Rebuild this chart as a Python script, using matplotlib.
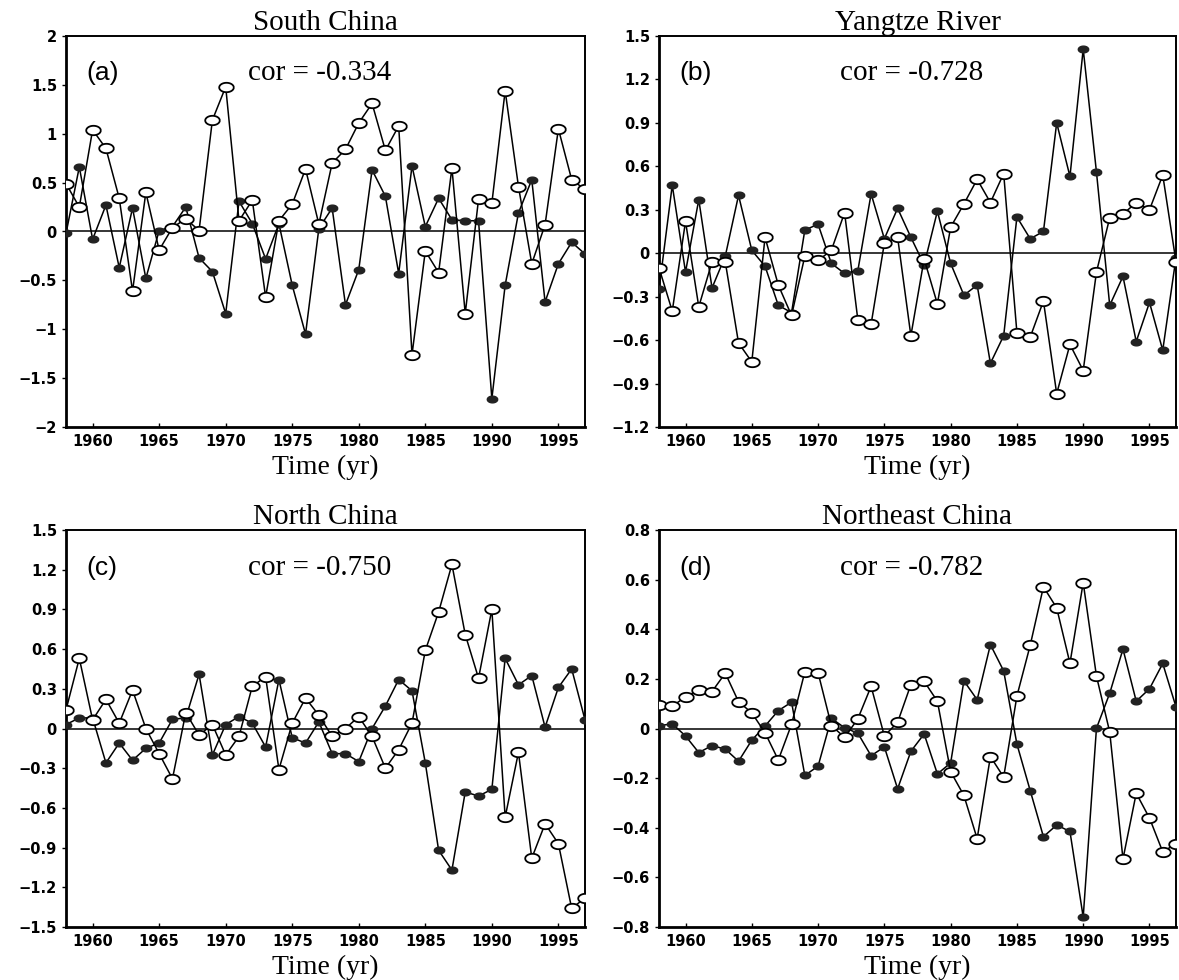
import numpy as np
import matplotlib
matplotlib.use("Agg")
import matplotlib.pyplot as plt
from matplotlib.path import Path

years = np.arange(1958, 1998)

# (a) South China
sc_open = [0.49, 0.25, 1.04, 0.85, 0.34, -0.61, 0.40, -0.19, 0.04, 0.13,
           0.01, 1.14, 1.48, 0.11, 0.32, -0.67, 0.11, 0.28, 0.64, 0.075,
           0.70, 0.84, 1.11, 1.31, 0.83, 1.08, -1.26, -0.20, -0.42, 0.65,
           -0.84, 0.33, 0.29, 1.44, 0.46, -0.33, 0.07, 1.05, 0.53, 0.43]
sc_fill = [-0.02, 0.66, -0.08, 0.27, -0.37, 0.24, -0.48, 0.01, 0.05, 0.25,
           -0.27, -0.41, -0.84, 0.31, 0.08, -0.28, 0.08, -0.55, -1.05, 0.03,
           0.24, -0.75, -0.39, 0.63, 0.36, -0.43, 0.67, 0.05, 0.34, 0.12,
           0.11, 0.11, -1.71, -0.55, 0.19, 0.53, -0.72, -0.33, -0.11, -0.23]

# (b) Yangtze River
yr_open = [-0.10, -0.40, 0.22, -0.37, -0.06, -0.06, -0.62, -0.75, 0.11, -0.22,
           -0.43, -0.02, -0.05, 0.02, 0.28, -0.46, -0.49, 0.07, 0.11, -0.57,
           -0.04, -0.35, 0.18, 0.34, 0.51, 0.35, 0.55, -0.55, -0.58, -0.33,
           -0.97, -0.63, -0.81, -0.13, 0.245, 0.27, 0.35, 0.30, 0.54, -0.06]
yr_fill = [-0.25, 0.47, -0.13, 0.37, -0.24, -0.02, 0.40, 0.02, -0.09, -0.36,
           -0.41, 0.16, 0.20, -0.07, -0.14, -0.12, 0.41, 0.10, 0.31, 0.11,
           -0.08, 0.29, -0.07, -0.29, -0.22, -0.76, -0.57, 0.25, 0.10, 0.15,
           0.90, 0.53, 1.41, 0.56, -0.36, -0.16, -0.61, -0.34, -0.67, -0.03]

# (c) North China
nc_open = [0.14, 0.53, 0.065, 0.22, 0.04, 0.29, 0.00, -0.19, -0.38, 0.12,
           -0.05, 0.03, -0.20, -0.06, 0.32, 0.39, -0.31, 0.04, 0.23, 0.10,
           -0.06, 0.00, 0.09, -0.06, -0.30, -0.16, 0.04, 0.59, 0.88, 1.24,
           0.71, 0.38, 0.90, -0.67, -0.18, -0.98, -0.72, -0.87, -1.36, -1.28]
nc_fill = [0.03, 0.08, 0.08, -0.26, -0.11, -0.24, -0.15, -0.11, 0.07, 0.08,
           0.41, -0.20, 0.03, 0.09, 0.04, -0.14, 0.37, -0.07, -0.11, 0.05,
           -0.19, -0.19, -0.25, 0.00, 0.17, 0.37, 0.285, -0.26, -0.92, -1.07,
           -0.48, -0.51, -0.46, 0.53, 0.33, 0.40, 0.01, 0.31, 0.45, 0.065]

# (d) Northeast China
ne_open = [0.094, 0.09, 0.127, 0.156, 0.149, 0.223, 0.108, 0.063, -0.017, -0.127,
           0.017, 0.228, 0.225, 0.012, -0.036, 0.039, 0.17, -0.03, 0.025, 0.177,
           0.19, 0.11, -0.174, -0.27, -0.444, -0.113, -0.196, 0.131, 0.335, 0.571,
           0.486, 0.263, 0.588, 0.211, -0.014, -0.526, -0.261, -0.361, -0.497, -0.465]
ne_fill = [0.011, 0.019, -0.03, -0.097, -0.069, -0.083, -0.132, -0.047, 0.01, 0.072,
           0.106, -0.189, -0.152, 0.041, 0.003, -0.019, -0.11, -0.074, -0.243, -0.092,
           -0.022, -0.183, -0.139, 0.192, 0.116, 0.338, 0.232, -0.063, -0.25, -0.436,
           -0.389, -0.415, -0.76, 0.001, 0.142, 0.32, 0.11, 0.16, 0.262, 0.087]

titles = ["South China", "Yangtze River", "North China", "Northeast China"]
tags = ["(a)", "(b)", "(c)", "(d)"]
cors = ["cor = -0.334", "cor = -0.728", "cor = -0.750", "cor = -0.782"]
opens = [sc_open, yr_open, nc_open, ne_open]
fills = [sc_fill, yr_fill, nc_fill, ne_fill]
ylims = [(-2, 2), (-1.2, 1.5), (-1.5, 1.5), (-0.8, 0.8)]
yticks = [np.arange(-2, 2.01, 0.5), np.arange(-1.2, 1.51, 0.3),
          np.arange(-1.5, 1.51, 0.3), np.arange(-0.8, 0.81, 0.2)]

# flattened ellipse marker
t = np.linspace(0, 2 * np.pi, 40)
ellipse = Path(np.column_stack([1.55 * np.cos(t), np.sin(t)]))


def fmt(v, step):
    if abs(v) < 1e-9:
        return "0"
    if step == 0.5:
        s = ("%.1f" % v).rstrip("0").rstrip(".")
    else:
        s = "%.1f" % v
    return s.replace("-", "\u2212")


fig = plt.figure(figsize=(11.79, 9.8), dpi=100)
W, H = 1179.0, 980.0
boxes = [(66, 36, 585, 427), (659, 36, 1176, 427),
         (66, 530, 585, 927), (659, 530, 1176, 927)]

for i in range(4):
    l, tp, r, b = boxes[i]
    ax = fig.add_axes([l / W, 1 - b / H, (r - l) / W, (b - tp) / H])
    ax.axhline(0, color="black", lw=1.1, zorder=1)
    ax.plot(years, fills[i], color="black", lw=1.1, marker=ellipse, ms=7.5,
            mfc="#222222", mec="#222222", zorder=3)
    ax.plot(years, opens[i], color="black", lw=1.1, marker=ellipse, ms=10.5,
            mfc="white", mec="black", mew=1.3, zorder=4)
    ax.set_xlim(1958, 1997)
    ax.set_ylim(*ylims[i])
    ax.set_xticks(np.arange(1960, 1996, 5))
    ax.set_yticks(yticks[i])
    step = yticks[i][1] - yticks[i][0]
    ax.set_yticklabels([fmt(v, round(step, 1)) for v in yticks[i]])
    ax.tick_params(axis="both", labelsize=10.5, width=1, length=3)
    ax.tick_params(axis="x", direction="in", length=3, pad=5)
    for lab in ax.get_xticklabels() + ax.get_yticklabels():
        lab.set_fontweight("bold")
        lab.set_family("DejaVu Sans")
    for s in ["left", "bottom"]:
        ax.spines[s].set_linewidth(2)
    for s in ["top", "right"]:
        ax.spines[s].set_linewidth(1.4)
    ax.set_title(titles[i], family="Liberation Serif", fontsize=21, pad=0)
    ax.set_xlabel("Time (yr)", family="Liberation Serif", fontsize=20, labelpad=4)
    ax.text(0.04, 0.905, tags[i], transform=ax.transAxes, fontsize=19,
            family="Liberation Sans", va="center", ha="left")
    ax.text(0.35, 0.905, cors[i], transform=ax.transAxes, fontsize=21,
            family="Liberation Serif", va="center", ha="left")

fig.savefig("out.png", dpi=100)
